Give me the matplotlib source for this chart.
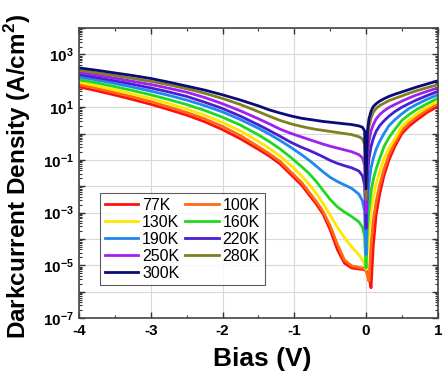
import numpy as np
import matplotlib
matplotlib.use('Agg')
import matplotlib.pyplot as plt
from matplotlib.ticker import FixedLocator, FuncFormatter, LogLocator, MultipleLocator

plt.rcParams['font.family'] = ['Liberation Sans', 'DejaVu Sans']
plt.rcParams['mathtext.fontset'] = 'custom'
plt.rcParams['mathtext.rm'] = 'Liberation Sans:bold'
plt.rcParams['mathtext.bf'] = 'Liberation Sans:bold'

# bias points (V) shared by all curves
bias = [-4, -3.75, -3.5, -3.25, -3, -2.75, -2.5, -2.25, -2, -1.75, -1.5, -1.35, -1.2, -1.05,
        -0.9, -0.8, -0.7, -0.6, -0.5, -0.4, -0.3, -0.2, -0.1, -0.05, -0.02, 0,
        0.02, 0.04, 0.07, 0.1, 0.14, 0.19, 0.25, 0.32, 0.4, 0.5, 0.6, 0.7, 0.85, 1.0]

# log10 of dark current density (A/cm^2)
logj_77 = [1.77, 1.62, 1.46, 1.29, 1.11, 0.91, 0.70, 0.45, 0.15, -0.20, -0.60, -0.85, -1.15, -1.55,
           -1.95, -2.30, -2.65, -3.05, -3.65, -4.40, -4.92, -5.10, -5.14, -5.15, -5.17, -5.20,
           -5.30, -5.45, -5.85, -4.30, -3.10, -2.30, -1.60, -1.00, -0.50, 0.00, 0.28, 0.50, 0.80, 1.03]
logj_100 = [1.86, 1.71, 1.55, 1.39, 1.21, 1.01, 0.80, 0.56, 0.27, -0.08, -0.50, -0.76, -1.05, -1.45,
            -1.85, -2.20, -2.55, -2.95, -3.50, -4.20, -4.80, -5.02, -5.08, -5.10, -5.12, -5.20,
            -5.40, -5.60, -4.20, -3.30, -2.60, -1.95, -1.35, -0.80, -0.35, 0.12, 0.40, 0.62, 0.90, 1.13]
logj_130 = [1.95, 1.81, 1.66, 1.50, 1.33, 1.14, 0.93, 0.70, 0.42, 0.10, -0.30, -0.56, -0.85, -1.20,
            -1.60, -1.90, -2.25, -2.65, -3.10, -3.55, -3.95, -4.30, -4.60, -4.80, -4.95, -5.15,
            -4.40, -3.70, -2.90, -2.40, -1.90, -1.45, -0.95, -0.55, -0.20, 0.28, 0.52, 0.73, 1.00, 1.22]
logj_160 = [2.05, 1.92, 1.78, 1.63, 1.47, 1.29, 1.10, 0.88, 0.62, 0.32, -0.05, -0.30, -0.58, -0.90,
            -1.25, -1.50, -1.80, -2.15, -2.50, -2.78, -2.98, -3.15, -3.35, -3.55, -3.90, -5.10,
            -3.60, -2.90, -2.20, -1.75, -1.35, -0.95, -0.50, -0.15, 0.15, 0.50, 0.72, 0.90, 1.13, 1.34]
logj_190 = [2.15, 2.03, 1.90, 1.76, 1.61, 1.45, 1.27, 1.06, 0.82, 0.53, 0.20, -0.02, -0.26, -0.52,
            -0.80, -1.00, -1.22, -1.45, -1.66, -1.82, -1.95, -2.08, -2.30, -2.55, -2.95, -4.60,
            -2.60, -1.90, -1.30, -0.95, -0.60, -0.30, 0.00, 0.30, 0.52, 0.75, 0.95, 1.10, 1.30, 1.47]
logj_220 = [2.24, 2.12, 2.00, 1.87, 1.73, 1.58, 1.41, 1.19, 0.95, 0.66, 0.33, 0.12, -0.10, -0.33,
            -0.52, -0.63, -0.75, -0.88, -1.02, -1.13, -1.22, -1.30, -1.42, -1.60, -1.95, -3.60,
            -1.60, -0.95, -0.50, -0.20, 0.08, 0.30, 0.48, 0.66, 0.83, 1.00, 1.14, 1.27, 1.44, 1.60]
logj_250 = [2.32, 2.21, 2.10, 1.98, 1.86, 1.72, 1.57, 1.37, 1.13, 0.86, 0.56, 0.37, 0.17, 0.01,
            -0.13, -0.22, -0.31, -0.40, -0.48, -0.55, -0.62, -0.69, -0.80, -0.92, -1.20, -3.00,
            -0.90, -0.30, 0.10, 0.33, 0.55, 0.72, 0.86, 0.99, 1.10, 1.23, 1.35, 1.46, 1.60, 1.73]
logj_280 = [2.40, 2.30, 2.20, 2.09, 1.98, 1.85, 1.70, 1.53, 1.33, 1.10, 0.83, 0.66, 0.50, 0.37,
            0.27, 0.21, 0.16, 0.12, 0.08, 0.04, 0.00, -0.04, -0.12, -0.20, -0.40, -2.50,
            -0.30, 0.25, 0.60, 0.80, 0.95, 1.06, 1.15, 1.25, 1.33, 1.43, 1.53, 1.62, 1.74, 1.85]
logj_300 = [2.49, 2.40, 2.30, 2.20, 2.09, 1.95, 1.80, 1.65, 1.47, 1.27, 1.05, 0.90, 0.78, 0.67,
            0.58, 0.54, 0.50, 0.46, 0.43, 0.40, 0.37, 0.34, 0.29, 0.24, 0.10, -2.10,
            0.10, 0.55, 0.85, 1.02, 1.13, 1.23, 1.32, 1.41, 1.49, 1.58, 1.67, 1.76, 1.88, 2.00]

temps = ['77K', '100K', '130K', '160K', '190K', '220K', '250K', '280K', '300K']
series = [logj_77, logj_100, logj_130, logj_160, logj_190, logj_220, logj_250, logj_280, logj_300]
colors = ['#ff1010', '#ff6a10', '#ffe600', '#20d820', '#1e88f0', '#4a1ed0', '#a020f0', '#808020', '#0a0a78']

fig = plt.figure(figsize=(4.44, 3.80), dpi=100)
ax = fig.add_axes([0.178, 0.163, 0.808, 0.763])

lines = {}
for name, vals, c in zip(temps, series, colors):
    ln, = ax.plot(bias, 10.0 ** np.array(vals), color=c, lw=2.0, label=name)
    lines[name] = ln

ax.set_yscale('log')
ax.set_xlim(-4, 1)
ax.set_ylim(1e-7, 1e4)

ax.yaxis.set_major_locator(FixedLocator([10.0 ** e for e in range(-7, 5)]))
ax.yaxis.set_minor_locator(LogLocator(base=10, subs=np.arange(2, 10), numticks=20))


def ylab(v, pos):
    e = int(round(np.log10(v)))
    if e % 2 == 0:
        return ''
    return r'$\mathbf{10^{%d}}$' % e


ax.yaxis.set_major_formatter(FuncFormatter(ylab))
ax.xaxis.set_major_locator(MultipleLocator(1))
ax.xaxis.set_minor_locator(MultipleLocator(0.5))
ax.xaxis.set_major_formatter(FuncFormatter(lambda v, p: '%d' % v))

ax.grid(True, which='major', color='#d8d8d8', lw=0.8)
ax.set_axisbelow(True)
ax.tick_params(which='both', direction='in', top=True, right=True, color='#333333')
ax.tick_params(which='major', length=4, width=1.0, labelsize=11, pad=4)
ax.tick_params(which='minor', length=2, width=0.8)
for lab in ax.get_xticklabels():
    lab.set_fontweight('bold')
for s in ax.spines.values():
    s.set_color('#444444')
    s.set_linewidth(1.2)

ax.set_xlabel('Bias (V)', fontsize=19, fontweight='bold')
ax.set_ylabel(r'Darkcurrent Density (A/cm$^\mathbf{2}$)', fontsize=17.5, fontweight='bold')
ax.xaxis.set_label_coords(0.51, -0.1)
ax.yaxis.set_label_coords(-0.127, 0.49)

order = ['77K', '130K', '190K', '250K', '300K', '100K', '160K', '220K', '280K']
leg = ax.legend([lines[k] for k in order], order, ncol=2, loc='upper left',
                bbox_to_anchor=(0.058, 0.431), borderaxespad=0, fontsize=11.5,
                frameon=True, fancybox=False, edgecolor='#333333', handlelength=2.1,
                handletextpad=0.25, columnspacing=0.35, labelspacing=0.12, borderpad=0.3)
leg.get_frame().set_linewidth(0.8)

fig.savefig('out.png', dpi=100)
